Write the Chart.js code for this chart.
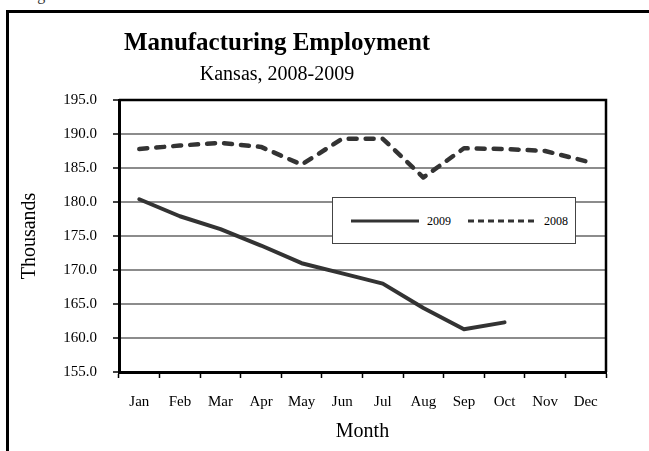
<!DOCTYPE html>
<html>
<head>
<meta charset="utf-8">
<script src="https://cdn.jsdelivr.net/npm/chart.js@4"></script>
<style>
  body { margin: 0; background: #fff; overflow: hidden; }
  #wrap { position: relative; width: 649px; height: 451px; font-family: "Liberation Serif", "Times New Roman", serif; }
  #frame { position: absolute; left: 6px; top: 10px; width: 700px; height: 500px; border-left: 3px solid #000; border-top: 3px solid #000; }
  #fig { position: absolute; left: 24px; top: -13px; font-size: 16px; line-height: 16px; color: #333; }
  .ttl { position: absolute; left: 0; width: 554px; text-align: center; color: #000; }
  #title { top: 29px; font-size: 25px; line-height: 25px; font-weight: bold; }
  #subtitle { top: 63px; font-size: 20px; line-height: 20px; }
  canvas { position: absolute; left: 0; top: 0; }
  #legend { position: absolute; left: 332px; top: 197px; width: 242px; height: 45px; background: #fff; border: 1px solid #444;
            font-size: 12px; color: #000; }
  #legend .item { position: absolute; top: 16px; height: 14px; line-height: 14px; }
  #legend svg { position: absolute; top: 0; left: 0; }
  #legend span { position: absolute; top: 0; }
</style>
</head>
<body>
<div id="wrap">
  <div id="fig">Figure 5.</div>
  <div id="frame"></div>
  <canvas id="chart" width="649" height="451"></canvas>
  <div id="title" class="ttl">Manufacturing Employment</div>
  <div id="subtitle" class="ttl">Kansas, 2008-2009</div>
  <div id="legend">
    <div class="item" style="left:18px;">
      <svg width="70" height="14"><line x1="0" y1="7" x2="68" y2="7" stroke="#333" stroke-width="3"/></svg>
      <span style="left:76px;">2009</span>
    </div>
    <div class="item" style="left:135px;">
      <svg width="70" height="14"><line x1="0" y1="7" x2="69" y2="7" stroke="#333" stroke-width="3" stroke-dasharray="6 4"/></svg>
      <span style="left:76px;">2008</span>
    </div>
  </div>
</div>
<script>
const months = ['Jan', 'Feb', 'Mar', 'Apr', 'May', 'Jun', 'Jul', 'Aug', 'Sep', 'Oct', 'Nov', 'Dec'];
const emp2009 = [180.4, 177.9, 176.0, 173.6, 171.0, 169.5, 168.0, 164.4, 161.3, 162.3];
const emp2008 = [187.8, 188.3, 188.7, 188.1, 185.5, 189.3, 189.3, 183.6, 187.9, 187.8, 187.5, 186.0];
const yMin = 155, yMax = 195, yStep = 5;

// frame around the plot area (top and right sides)
const plotFrame = {
    id: 'plotFrame',
    afterDraw(chart) {
        const a = chart.chartArea;
        const ctx = chart.ctx;
        ctx.save();
        ctx.strokeStyle = '#000';
        ctx.lineWidth = 2.5;
        ctx.beginPath();
        ctx.moveTo(a.left, a.top);
        ctx.lineTo(a.right, a.top);
        ctx.lineTo(a.right, a.bottom);
        ctx.stroke();
        ctx.restore();
    }
};

const serif = '"Liberation Serif", "Times New Roman", serif';

new Chart(document.getElementById('chart').getContext('2d'), {
    type: 'line',
    data: {
        labels: months,
        datasets: [{
            label: '2009',
            data: emp2009,
            borderColor: '#333',
            borderWidth: 4,
            borderCapStyle: 'round',
            borderJoinStyle: 'round',
            pointRadius: 0,
            tension: 0
        }, {
            label: '2008',
            data: emp2008,
            borderColor: '#333',
            borderWidth: 4.5,
            borderDash: [8, 9],
            borderCapStyle: 'round',
            borderJoinStyle: 'round',
            pointRadius: 0,
            tension: 0
        }]
    },
    options: {
        responsive: false,
        animation: false,
        layout: { padding: { top: 100, right: 43, bottom: 0, left: 0 } },
        plugins: {
            legend: { display: false },
            title: { display: false },
            tooltip: { enabled: false }
        },
        scales: {
            x: {
                offset: true,
                grid: { offset: true, drawOnChartArea: false, drawTicks: true, tickLength: 6, tickColor: '#000', tickWidth: 1.5 },
                border: { color: '#000', width: 3 },
                ticks: { color: '#000', padding: 15, font: { family: serif, size: 15 } },
                title: { display: true, text: 'Month', color: '#000', font: { family: serif, size: 20 }, padding: { top: 0, bottom: 7 } },
                afterFit(scale) { scale.height = 79; }
            },
            y: {
                min: yMin,
                max: yMax,
                grid: { color: '#8c8c8c', lineWidth: 2, tickLength: 6, tickColor: '#000', tickWidth: 1.5 },
                border: { color: '#000', width: 3 },
                ticks: {
                    stepSize: yStep,
                    color: '#000',
                    padding: 16,
                    font: { family: serif, size: 15 },
                    callback: v => v.toFixed(1)
                },
                title: { display: true, text: 'Thousands', color: '#000', font: { family: serif, size: 20 }, padding: { top: 18, bottom: 0 } },
                afterFit(scale) { scale.width = 119; }
            }
        }
    },
    plugins: [plotFrame]
});
</script>
</body>
</html>
